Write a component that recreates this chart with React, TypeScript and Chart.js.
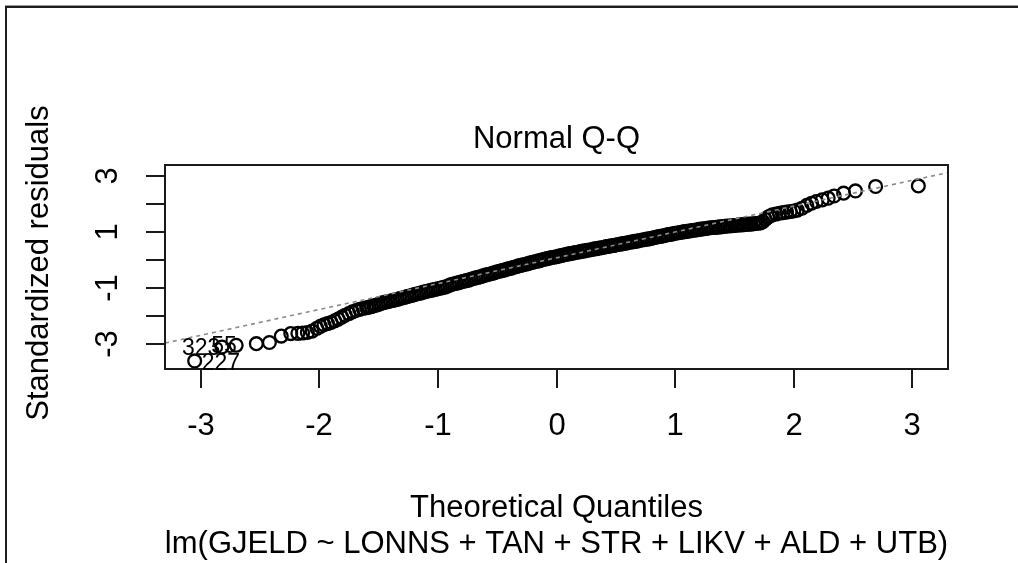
import React, { useEffect, useRef } from "react";
import { Chart, registerables } from "chart.js";

Chart.register(...registerables);

// Theoretical quantiles (x) and standardized residuals (y)
const theoretical: number[] = [
  -3.05, -2.82, -2.7, -2.53, -2.42, -2.32, -2.24, -2.18, -2.14, -2.1, -2.06, -2.02, -1.99, -1.96, -1.93, -1.9,
  -1.87, -1.84, -1.81, -1.78, -1.75, -1.72, -1.69, -1.66, -1.63, -1.6,
  -1.58, -1.56, -1.54, -1.52, -1.5, -1.48, -1.46, -1.44, -1.42, -1.4, -1.38, -1.36, -1.34, -1.32, -1.3,
  -1.28, -1.26, -1.24, -1.22, -1.2, -1.18, -1.16, -1.14, -1.12, -1.1, -1.08, -1.06, -1.04, -1.02, -1.0,
  -0.98, -0.96, -0.94, -0.92, -0.9, -0.88, -0.86, -0.84, -0.82, -0.8, -0.78, -0.76, -0.74, -0.72, -0.7,
  -0.68, -0.66, -0.64, -0.62, -0.6, -0.58, -0.56, -0.54, -0.52, -0.5, -0.48, -0.46, -0.44, -0.42, -0.4,
  -0.38, -0.36, -0.34, -0.32, -0.3, -0.28, -0.26, -0.24, -0.22, -0.2, -0.18, -0.16, -0.14, -0.12, -0.1,
  -0.08, -0.06, -0.04, -0.02, 0.0, 0.02, 0.04, 0.06, 0.08, 0.1, 0.12, 0.14, 0.16, 0.18, 0.2,
  0.22, 0.24, 0.26, 0.28, 0.3, 0.32, 0.34, 0.36, 0.38, 0.4, 0.42, 0.44, 0.46, 0.48, 0.5,
  0.52, 0.54, 0.56, 0.58, 0.6, 0.62, 0.64, 0.66, 0.68, 0.7, 0.72, 0.74, 0.76, 0.78, 0.8,
  0.82, 0.84, 0.86, 0.88, 0.9, 0.92, 0.94, 0.96, 0.98, 1.0, 1.02, 1.04, 1.06, 1.08, 1.1,
  1.12, 1.14, 1.16, 1.18, 1.2, 1.22, 1.24, 1.26, 1.28, 1.3, 1.32, 1.34, 1.36, 1.38, 1.4,
  1.42, 1.44, 1.46, 1.48, 1.5, 1.52, 1.54, 1.56, 1.58, 1.6, 1.62, 1.64, 1.66, 1.68, 1.7, 1.72,
  1.74, 1.76, 1.78, 1.8, 1.82, 1.85, 1.88, 1.91, 1.94, 1.97, 2.0, 2.03, 2.07, 2.11, 2.15, 2.19,
  2.24, 2.29, 2.34, 2.42, 2.52, 2.69, 3.05,
];

const residuals: number[] = [
  -3.62, -3.12, -3.06, -3.0, -2.96, -2.73, -2.64, -2.63, -2.62, -2.6, -2.55, -2.45, -2.38, -2.32, -2.28, -2.24,
  -2.18, -2.12, -2.05, -1.98, -1.92, -1.86, -1.81, -1.77, -1.74, -1.71,
  -1.69, -1.67, -1.64, -1.62, -1.59, -1.56, -1.53, -1.51, -1.49, -1.47, -1.45, -1.43, -1.41, -1.38, -1.36,
  -1.34, -1.31, -1.29, -1.27, -1.24, -1.22, -1.2, -1.18, -1.15, -1.13, -1.11, -1.09, -1.07, -1.05, -1.03,
  -1.01, -0.99, -0.97, -0.94, -0.9, -0.87, -0.85, -0.83, -0.81, -0.78, -0.76, -0.74, -0.72, -0.69, -0.66,
  -0.64, -0.62, -0.6, -0.57, -0.54, -0.52, -0.5, -0.48, -0.45, -0.42, -0.4, -0.38, -0.36, -0.33, -0.31,
  -0.29, -0.26, -0.24, -0.21, -0.19, -0.17, -0.15, -0.13, -0.1, -0.08, -0.06, -0.04, -0.02, 0.01, 0.03,
  0.05, 0.07, 0.09, 0.1, 0.12, 0.14, 0.16, 0.18, 0.2, 0.22, 0.23, 0.25, 0.27, 0.28, 0.3,
  0.32, 0.33, 0.35, 0.36, 0.38, 0.4, 0.41, 0.43, 0.44, 0.46, 0.48, 0.49, 0.51, 0.52, 0.54,
  0.56, 0.57, 0.59, 0.6, 0.62, 0.64, 0.65, 0.67, 0.68, 0.7, 0.72, 0.73, 0.75, 0.76, 0.78,
  0.8, 0.82, 0.84, 0.85, 0.87, 0.89, 0.91, 0.92, 0.94, 0.96, 0.97, 0.99, 1.0, 1.02, 1.03,
  1.04, 1.06, 1.07, 1.08, 1.1, 1.11, 1.12, 1.13, 1.15, 1.16, 1.17, 1.17, 1.18, 1.19, 1.2,
  1.21, 1.22, 1.22, 1.23, 1.24, 1.25, 1.26, 1.26, 1.27, 1.28, 1.29, 1.29, 1.3, 1.31, 1.32, 1.33,
  1.38, 1.46, 1.53, 1.58, 1.62, 1.65, 1.68, 1.7, 1.72, 1.74, 1.76, 1.79, 1.86, 1.96, 2.04, 2.1,
  2.16, 2.22, 2.3, 2.4, 2.48, 2.64, 2.66,
];

// Reference (qq) line end points
const refLineX: number[] = [-3.3, 3.3];
const refLineY: number[] = [-2.98, 3.14];

// Identified observations (index into the arrays above)
const idLabels: string[] = ["227", "323", "55"];
const idIndex: number[] = [0, 1, 2];

// Axes
const xTicks: number[] = [-3, -2, -1, 0, 1, 2, 3];
const xTickLabels: string[] = ["-3", "-2", "-1", "0", "1", "2", "3"];
const yTicks: number[] = [-3, -2, -1, 0, 1, 2, 3];
const yTickLabels: string[] = ["-3", "", "-1", "", "1", "", "3"];
const xRange: number[] = [-3.3, 3.3];
const yRange: number[] = [-3.91, 3.41];

const mainTitle = "Normal Q-Q";
const xTitle = "Theoretical Quantiles";
const subTitle = "lm(GJELD ~ LONNS + TAN + STR + LIKV + ALD + UTB)";
const yTitle = "Standardized residuals";

const FONT = '"Liberation Sans", Arial, sans-serif';

const decor = {
  id: "decor",
  afterDraw(chart: any) {
    const { ctx, chartArea: a, scales } = chart;
    const xs = scales.x;
    const ys = scales.y;
    ctx.save();

    // outer frame (top and left)
    ctx.fillStyle = "#9a9a9a";
    ctx.fillRect(5, 5, 1013, 1);
    ctx.fillStyle = "#1e1e1e";
    ctx.fillRect(5, 6, 1013, 2);
    ctx.fillRect(5, 6, 2, 557);

    // plot box
    ctx.strokeStyle = "#1a1a1a";
    ctx.lineWidth = 2;
    ctx.strokeRect(a.left, a.top, a.right - a.left, a.bottom - a.top);

    ctx.fillStyle = "#000";
    // x ticks
    ctx.font = `31px ${FONT}`;
    ctx.textAlign = "center";
    ctx.textBaseline = "alphabetic";
    xTicks.forEach((v, i) => {
      const px = Math.round(xs.getPixelForValue(v));
      ctx.beginPath();
      ctx.moveTo(px, a.bottom);
      ctx.lineTo(px, a.bottom + 19);
      ctx.stroke();
      ctx.fillText(xTickLabels[i], px, a.bottom + 66);
    });

    // y ticks
    yTicks.forEach((v, i) => {
      const py = Math.round(ys.getPixelForValue(v));
      ctx.beginPath();
      ctx.moveTo(a.left - 19, py);
      ctx.lineTo(a.left, py);
      ctx.stroke();
      if (yTickLabels[i]) {
        ctx.save();
        ctx.translate(a.left - 48, py);
        ctx.rotate(-Math.PI / 2);
        ctx.fillText(yTickLabels[i], 0, 0);
        ctx.restore();
      }
    });

    // titles
    const cx = (a.left + a.right) / 2;
    const cy = (a.top + a.bottom) / 2;
    ctx.fillText(mainTitle, cx, a.top - 17);
    ctx.fillText(xTitle, cx, a.bottom + 148);
    ctx.fillText(subTitle, cx, a.bottom + 184);
    ctx.save();
    ctx.translate(48, cy - 4);
    ctx.rotate(-Math.PI / 2);
    ctx.fillText(yTitle, 0, 0);
    ctx.restore();

    // identification labels
    const labelDx = [7, -40, -25];
    const labelDy = [9, 8, 8];
    ctx.font = `23px ${FONT}`;
    ctx.textAlign = "left";
    idIndex.forEach((idx, i) => {
      const px = xs.getPixelForValue(theoretical[idx]);
      const py = ys.getPixelForValue(residuals[idx]);
      ctx.fillText(idLabels[i], px + labelDx[i], py + labelDy[i]);
    });

    ctx.restore();
  },
};

export default function App() {
  const ref = useRef<HTMLCanvasElement | null>(null);

  useEffect(() => {
    if (!ref.current) return;
    const points = theoretical.map((x, i) => ({ x, y: residuals[i] }));
    const line = refLineX.map((x, i) => ({ x, y: refLineY[i] }));
    const chart = new Chart(ref.current, {
      type: "scatter",
      data: {
        datasets: [
          {
            type: "line",
            data: line,
            borderColor: "#8a8a8a",
            borderWidth: 1.6,
            borderDash: [4, 4],
            pointRadius: 0,
            fill: false,
          } as any,
          {
            data: points,
            pointStyle: "circle",
            pointRadius: 6.4,
            pointBorderWidth: 2.3,
            borderColor: "#000",
            backgroundColor: "rgba(0,0,0,0)",
            pointBackgroundColor: "rgba(0,0,0,0)",
            pointBorderColor: "#000",
          },
        ],
      },
      options: {
        animation: false,
        responsive: false,
        devicePixelRatio: 1,
        layout: { padding: { left: 165, top: 165, right: 70, bottom: 194 } },
        plugins: { legend: { display: false }, tooltip: { enabled: false } },
        events: [],
        scales: {
          x: { type: "linear", display: false, min: xRange[0], max: xRange[1] },
          y: { type: "linear", display: false, min: yRange[0], max: yRange[1] },
        },
      },
      plugins: [decor],
    });
    return () => chart.destroy();
  }, []);

  return (
    <div style={{ position: "fixed", left: 0, top: 0, width: 1018, height: 563, background: "#fff" }}>
      <canvas ref={ref} width={1018} height={563} style={{ display: "block", width: 1018, height: 563 }} />
    </div>
  );
}
